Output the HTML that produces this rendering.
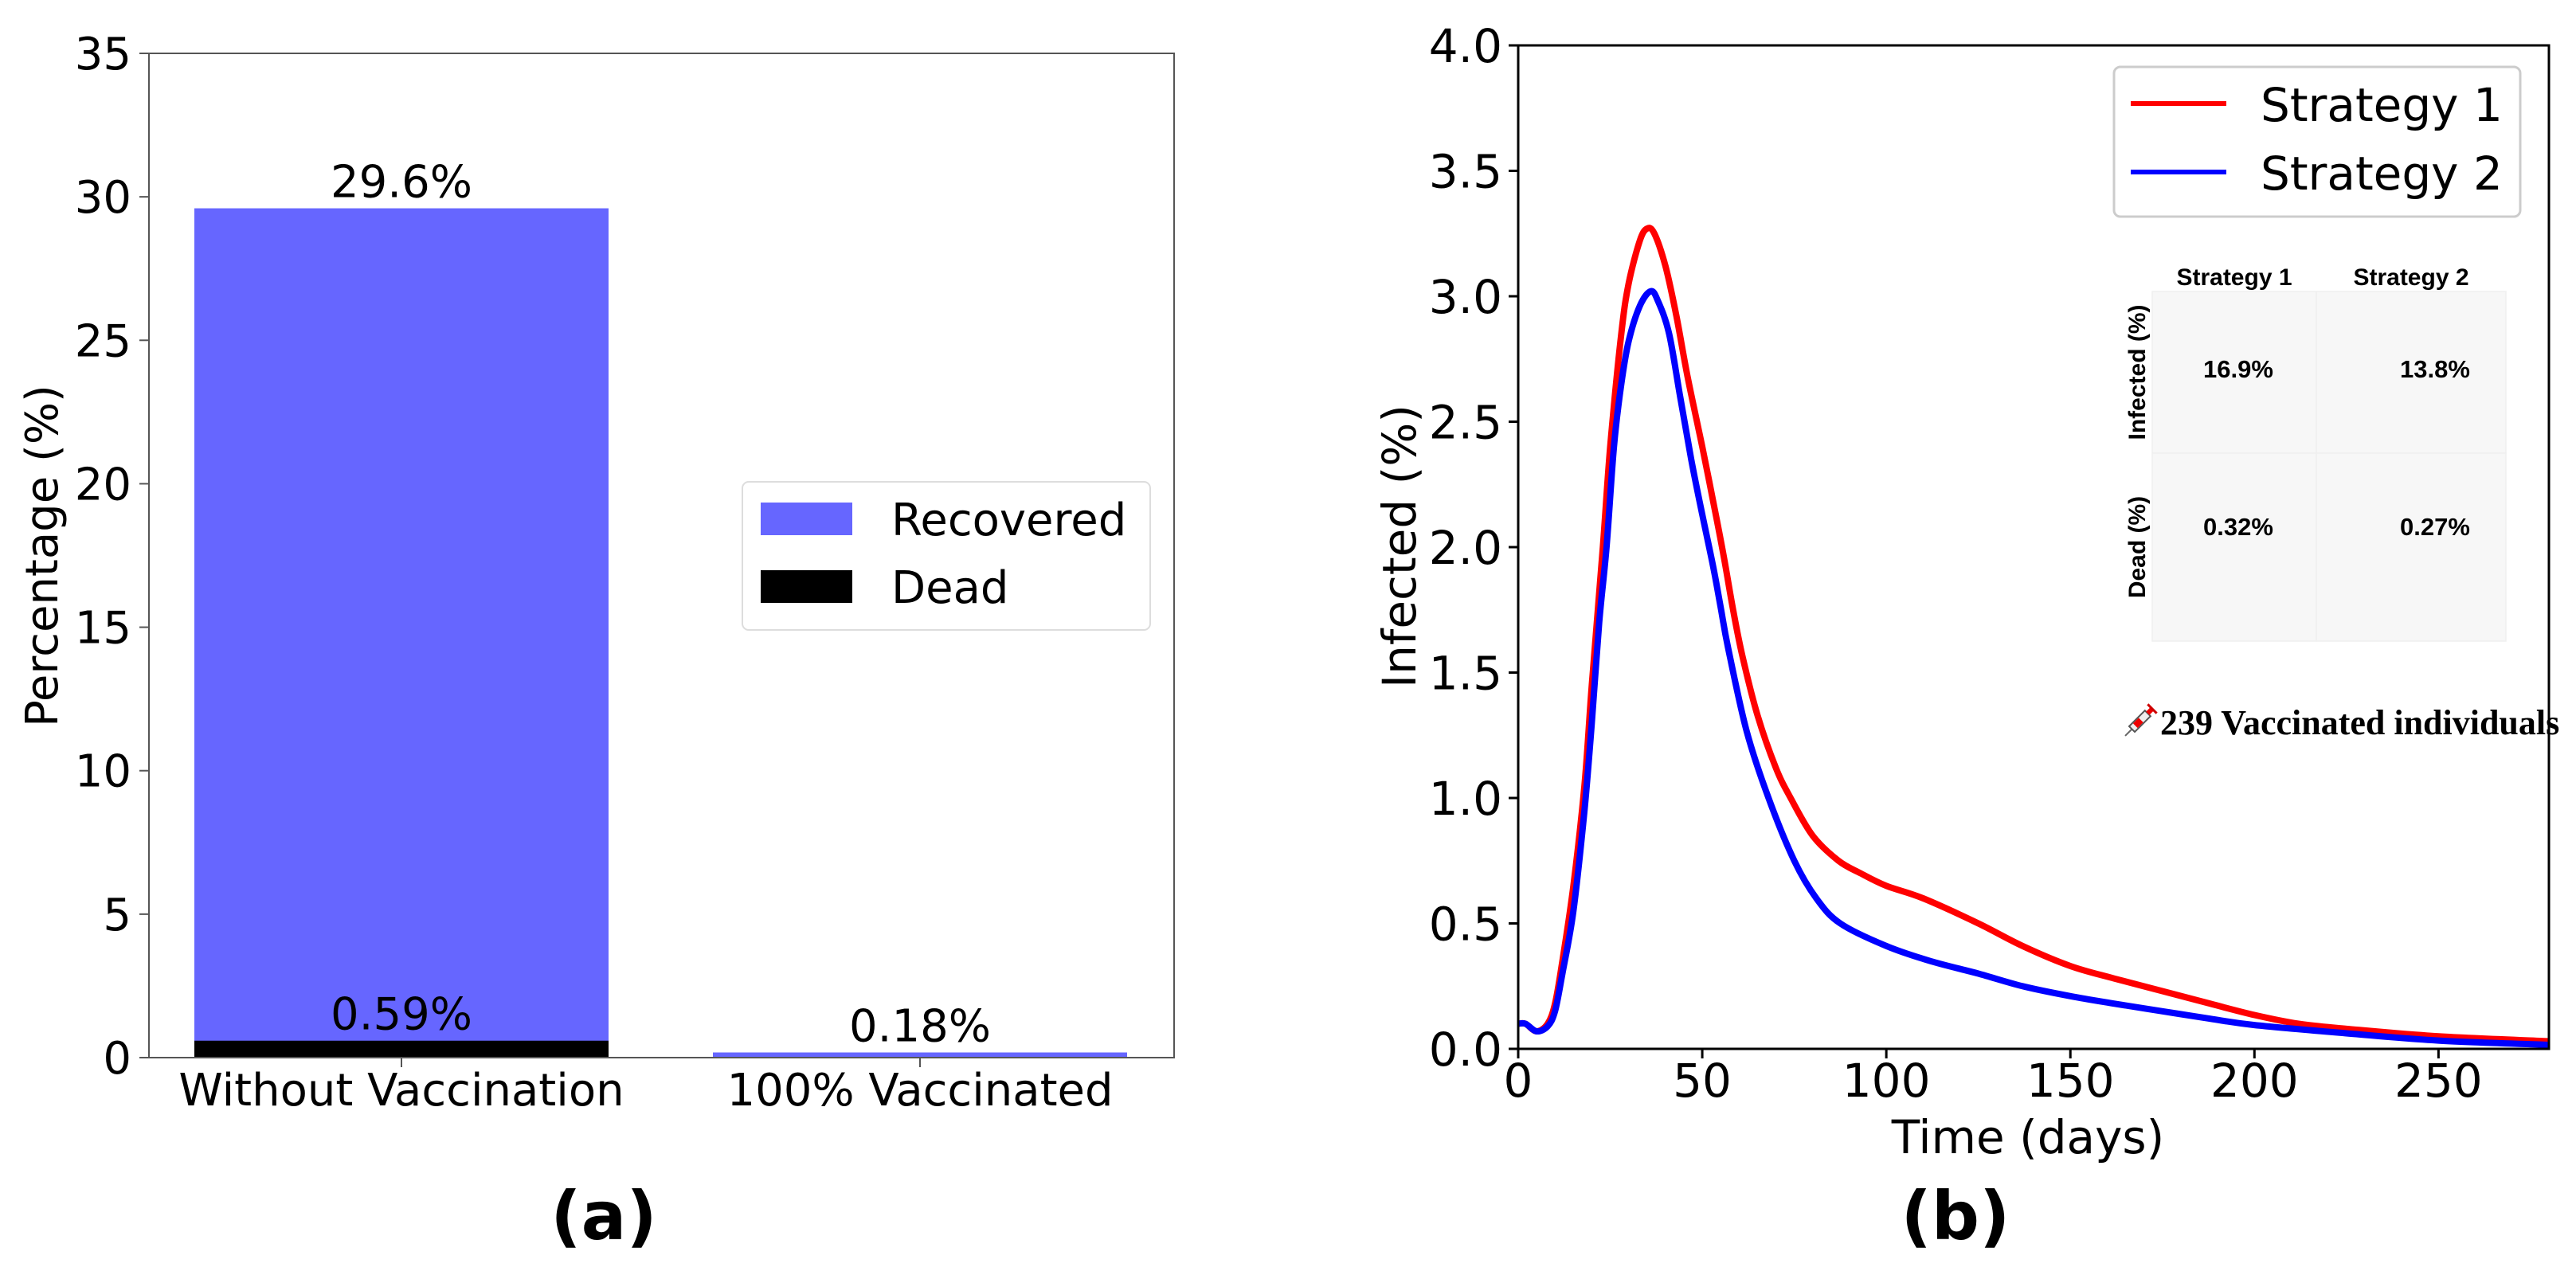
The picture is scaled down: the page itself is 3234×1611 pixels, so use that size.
<!DOCTYPE html>
<html><head><meta charset="utf-8"><style>
html,body{margin:0;padding:0;background:#fff;}
svg{display:block;font-family:"DejaVu Sans","Liberation Sans",sans-serif;}
</style></head><body>
<svg id="fig" width="3234" height="1611" viewBox="0 0 3234 1611" xmlns="http://www.w3.org/2000/svg">
<g id="pa"></g>
<g id="pb"></g>
</svg>
<script>
// ---- Panel (a) data ----
const barCats = ["Without Vaccination", "100% Vaccinated"];
const recovered = [29.6, 0.18];
const dead = [0.59, 0.0];
const recLabels = ["29.6%", "0.18%"];
const deadLabels = ["0.59%", ""];
const aTicks = [0, 5, 10, 15, 20, 25, 30, 35];

// ---- Panel (b) data ----
const s1Days = [0,2,5,8,10,12,15,18,20,23,25,28,30,33,35,37,40,43,46,50,53,56,58.5,61,65,70,74,80,87,93,100,110,125,137,150,162,175,188,200,212,225,250,280];
const s1Vals = [0.1,0.1,0.07,0.1,0.18,0.35,0.65,1.05,1.45,2.0,2.4,2.85,3.05,3.22,3.27,3.25,3.12,2.92,2.68,2.4,2.18,1.95,1.74,1.56,1.33,1.12,1.0,0.85,0.75,0.7,0.65,0.6,0.5,0.41,0.33,0.28,0.23,0.18,0.135,0.1,0.08,0.05,0.03];
const s2Days = [0,2,5,8,10,12,15,18,20,22,24,26,28,30,33,36,38,41,44,47,50,53,55,57,62,68,75,81,87.5,100,112,125,137,150,162,175,188,200,225,250,280];
const s2Vals = [0.1,0.1,0.07,0.09,0.15,0.3,0.55,0.95,1.3,1.7,2.0,2.4,2.65,2.82,2.96,3.02,2.98,2.85,2.6,2.35,2.13,1.92,1.76,1.6,1.27,1.0,0.75,0.6,0.5,0.41,0.35,0.3,0.25,0.21,0.18,0.15,0.12,0.095,0.062,0.033,0.016];
const bXTicks = [0, 50, 100, 150, 200, 250];
const bYTicks = [0.0, 0.5, 1.0, 1.5, 2.0, 2.5, 3.0, 3.5, 4.0];
const tableCols = ["Strategy 1", "Strategy 2"];
const tableRows = ["Infected (%)", "Dead (%)"];
const tableVals = [["16.9%", "13.8%"], ["0.32%", "0.27%"]];

const NS = "http://www.w3.org/2000/svg";
function mk(parent, tag, attrs, text) {
  const e = document.createElementNS(NS, tag);
  for (const k in attrs) e.setAttribute(k, attrs[k]);
  if (text !== undefined) e.textContent = text;
  parent.appendChild(e);
  return e;
}

// ===== Panel A =====
const pa = document.getElementById('pa');
const aL = 187, aR = 1474, aT = 67, aB = 1328, aMax = 35;
const ay = v => aB - (v / aMax) * (aB - aT);
const barCenters = [504, 1155], barW = 520;
aTicks.forEach(t => {
  const l = mk(pa, 'line', {x1: aL - 12, x2: aL, y1: ay(t), y2: ay(t), stroke: '#555', 'stroke-width': 2});
  
  
  const tx = mk(pa, 'text', {x: aL - 22, y: ay(t) + 20, 'font-size': 56, 'text-anchor': 'end'}, String(t));
  
  
});
barCats.forEach((c, i) => {
  const cx = barCenters[i];
  const r = mk(pa, 'rect', {x: cx - barW / 2, y: ay(recovered[i]), width: barW, height: aB - ay(recovered[i]), fill: '#6666ff'});
  
  
  if (dead[i] > 0) {
    const d = mk(pa, 'rect', {x: cx - barW / 2, y: ay(dead[i]), width: barW, height: aB - ay(dead[i]), fill: '#000'});
    
    
  }
  const lt = mk(pa, 'text', {x: cx, y: ay(recovered[i]) - 14, 'font-size': 56, 'text-anchor': 'middle'}, recLabels[i]);
  
  
  if (deadLabels[i]) {
    const dl = mk(pa, 'text', {x: cx, y: ay(dead[i]) - 14, 'font-size': 56, 'text-anchor': 'middle'}, deadLabels[i]);
    
    
  }
  const tk = mk(pa, 'line', {x1: cx, x2: cx, y1: aB, y2: aB + 12, stroke: '#555', 'stroke-width': 2});
  
  
  const cl = mk(pa, 'text', {x: cx, y: 1388, 'font-size': 56, 'text-anchor': 'middle'}, c);
  
  
});
</script>
<script>
(function(){
const pa = document.getElementById('pa');
const frame = mk(pa, 'rect', {x: 187, y: 67, width: 1287, height: 1261, fill: 'none', stroke: '#555', 'stroke-width': 2});


const yl = mk(pa, 'text', {x: 0, y: 0, 'font-size': 56, 'text-anchor': 'middle', transform: 'translate(72,698) rotate(-90)'}, 'Percentage (%)');


const lg = mk(pa, 'g', {});


mk(lg, 'rect', {x: 932, y: 605, width: 512, height: 186, rx: 8, fill: '#fff', stroke: '#ddd', 'stroke-width': 2});
mk(lg, 'rect', {x: 955, y: 631, width: 115, height: 41, fill: '#6666ff'});
mk(lg, 'rect', {x: 955, y: 716, width: 115, height: 41, fill: '#000'});
const t1 = mk(lg, 'text', {x: 1119, y: 672, 'font-size': 56}, 'Recovered');


const t2 = mk(lg, 'text', {x: 1119, y: 757, 'font-size': 56}, 'Dead');


const ta = mk(pa, 'text', {x: 758, y: 1556, 'font-size': 84, 'font-weight': 'bold', 'text-anchor': 'middle'}, '(a)');



// ===== Panel B =====
const pb = document.getElementById('pb');
const bL = 1906, bR = 3200, bT = 57, bB = 1317, xMax = 280, yMax = 4;
const bx = d => bL + (d / xMax) * (bR - bL);
const by = v => bB - (v / yMax) * (bB - bT);
bYTicks.forEach(t => {
  const l = mk(pb, 'line', {x1: bL - 12, x2: bL, y1: by(t), y2: by(t), stroke: '#000', 'stroke-width': 3});
  
  
  const tx = mk(pb, 'text', {x: bL - 20, y: by(t) + 21, 'font-size': 58, 'text-anchor': 'end'}, t.toFixed(1));
  
  
});
bXTicks.forEach(t => {
  const l = mk(pb, 'line', {x1: bx(t), x2: bx(t), y1: bB, y2: bB + 12, stroke: '#000', 'stroke-width': 3});
  
  
  const tx = mk(pb, 'text', {x: bx(t), y: bB + 60, 'font-size': 58, 'text-anchor': 'middle'}, String(t));
  
  
});
// table
const tb = mk(pb, 'g', {});


const colX = [2702, 2908, 3146], rowY = [366, 569, 805];
for (let r = 0; r < 2; r++) for (let c = 0; c < 2; c++) {
  const cell = mk(tb, 'rect', {x: colX[c], y: rowY[r], width: colX[c+1]-colX[c], height: rowY[r+1]-rowY[r], fill: '#f7f7f7', stroke: '#efefef', 'stroke-width': 1.5});
  
  
  const v = mk(tb, 'text', {x: (c === 0 ? 2810 : 3057), y: (r === 0 ? 474 : 672), 'font-size': 31, 'font-weight': 'bold', 'text-anchor': 'middle', 'font-family': '"Liberation Sans",sans-serif'}, tableVals[r][c]);
  
  
}
tableCols.forEach((c, i) => {
  const h = mk(tb, 'text', {x: (colX[i] + colX[i+1]) / 2, y: 358, 'font-size': 30, 'font-weight': 'bold', 'text-anchor': 'middle', 'font-family': '"Liberation Sans",sans-serif'}, c);
  
  
});
tableRows.forEach((rname, i) => {
  const cy = (rowY[i] + rowY[i+1]) / 2;
  const h = mk(tb, 'text', {x: 0, y: 0, 'font-size': 30, 'font-weight': 'bold', 'text-anchor': 'middle', 'font-family': '"Liberation Sans",sans-serif', transform: 'translate(2693,' + cy + ') rotate(-90)'}, rname);
  
  
});
// syringe + text
const sy = mk(pb, 'g', {transform: 'translate(2685,907) rotate(-45)'});


mk(sy, 'line', {x1: -24, y1: 0, x2: -12, y2: 0, stroke: '#666', 'stroke-width': 2});
mk(sy, 'rect', {x: -12, y: -5, width: 28, height: 10, fill: '#eee', stroke: '#555', 'stroke-width': 2});
mk(sy, 'rect', {x: -6, y: -4, width: 10, height: 8, fill: '#e00'});
mk(sy, 'rect', {x: 16, y: -3, width: 8, height: 6, fill: '#e00'});
mk(sy, 'line', {x1: 24, y1: -8, x2: 24, y2: 8, stroke: '#c00', 'stroke-width': 3});
const vt = mk(pb, 'text', {x: 2712, y: 922, 'font-size': 44, 'font-weight': 'bold', 'font-family': '"Liberation Serif",serif'}, '239 Vaccinated individuals');


// smooth lines (Catmull-Rom through data points)
function path(days, vals) {
  const p = days.map((d, i) => [bx(d), by(vals[i])]);
  let s = 'M' + p[0][0].toFixed(1) + ',' + p[0][1].toFixed(1);
  for (let i = 0; i < p.length - 1; i++) {
    const p0 = p[Math.max(0, i - 1)], p1 = p[i], p2 = p[i + 1], p3 = p[Math.min(p.length - 1, i + 2)];
    const c1 = [p1[0] + (p2[0] - p0[0]) / 6, p1[1] + (p2[1] - p0[1]) / 6];
    const c2 = [p2[0] - (p3[0] - p1[0]) / 6, p2[1] - (p3[1] - p1[1]) / 6];
    s += 'C' + c1[0].toFixed(1) + ',' + c1[1].toFixed(1) + ' ' + c2[0].toFixed(1) + ',' + c2[1].toFixed(1) + ' ' + p2[0].toFixed(1) + ',' + p2[1].toFixed(1);
  }
  return s;
}
const cp = mk(pb, 'clipPath', {id: 'clipb'});
mk(cp, 'rect', {x: bL, y: bT, width: bR - bL, height: bB - bT});
const p1 = mk(pb, 'path', {d: path(s1Days, s1Vals), fill: 'none', stroke: '#ff0000', 'stroke-width': 8, 'stroke-linejoin': 'round', 'clip-path': 'url(#clipb)'});


const p2 = mk(pb, 'path', {d: path(s2Days, s2Vals), fill: 'none', stroke: '#0000ff', 'stroke-width': 8, 'stroke-linejoin': 'round', 'clip-path': 'url(#clipb)'});


const fb = mk(pb, 'rect', {x: bL, y: bT, width: bR - bL, height: bB - bT, fill: 'none', stroke: '#000', 'stroke-width': 3});


// legend b
const lb = mk(pb, 'g', {});


mk(lb, 'rect', {x: 2654, y: 84, width: 510, height: 188, rx: 8, fill: '#fff', stroke: '#ccc', 'stroke-width': 3});
mk(lb, 'line', {x1: 2675, x2: 2795, y1: 130, y2: 130, stroke: '#ff0000', 'stroke-width': 6});
mk(lb, 'line', {x1: 2675, x2: 2795, y1: 216, y2: 216, stroke: '#0000ff', 'stroke-width': 6});
const e1 = mk(lb, 'text', {x: 2838, y: 152, 'font-size': 58}, 'Strategy 1');


const e2 = mk(lb, 'text', {x: 2838, y: 238, 'font-size': 58}, 'Strategy 2');


const xl = mk(pb, 'text', {x: 2546, y: 1448, 'font-size': 58, 'text-anchor': 'middle'}, 'Time (days)');


const ylb = mk(pb, 'text', {x: 0, y: 0, 'font-size': 58, 'text-anchor': 'middle', transform: 'translate(1777,686) rotate(-90)'}, 'Infected (%)');


const tbt = mk(pb, 'text', {x: 2455, y: 1556, 'font-size': 84, 'font-weight': 'bold', 'text-anchor': 'middle'}, '(b)');


})();
</script>
</body></html>
